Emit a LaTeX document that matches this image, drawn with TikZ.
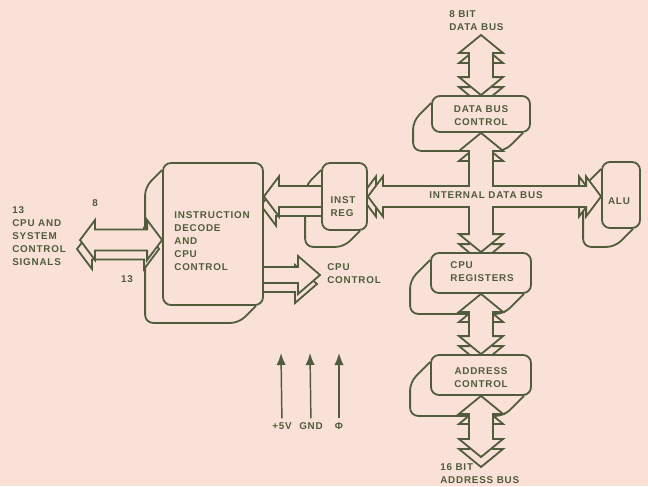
\documentclass[tikz,border=0pt]{standalone}
\usepackage{fontspec}
\setmainfont{Liberation Sans}[LetterSpace=8]
\usetikzlibrary{calc,arrows.meta}

\definecolor{paperbg}{RGB}{249,225,215}
\definecolor{ink}{RGB}{80,92,60}

\pgfdeclarelayer{paper}
\pgfdeclarelayer{shadows}
\pgfdeclarelayer{buses}
\pgfsetlayers{paper,shadows,buses,main}

\newcommand{\labelfont}{\fontsize{7.4}{9.75}\selectfont\bfseries}

% bus arrow sizes (vertical / horizontal)
\def\bvlen{18}\def\bvhead{22}\def\bvshaft{12}
\def\bhlen{15}\def\bhhead{20}\def\bhshaft{10.5}

% double bus, vertical: top tip, bottom tip, shift
\newcommand{\vbus}[4]{%
  \draw[bus] ($(#1)+(#3,#4)$) -- ($(#1)+(#3,#4)+(\bvhead,\bvlen)$) -- ($(#1)+(#3,#4)+(\bvshaft,\bvlen)$) -- ($(#2)+(#3,#4)+(\bvshaft,-\bvlen)$) -- ($(#2)+(#3,#4)+(\bvhead,-\bvlen)$) -- ($(#2)+(#3,#4)$) -- ($(#2)+(#3,#4)+(-\bvhead,-\bvlen)$) -- ($(#2)+(#3,#4)+(-\bvshaft,-\bvlen)$) -- ($(#1)+(#3,#4)+(-\bvshaft,\bvlen)$) -- ($(#1)+(#3,#4)+(-\bvhead,\bvlen)$) -- cycle;}
% double bus, horizontal: left tip, right tip, shift
\newcommand{\hbus}[4]{%
  \draw[bus] ($(#1)+(#3,#4)$) -- ($(#1)+(#3,#4)+(\bhlen,-\bhhead)$) -- ($(#1)+(#3,#4)+(\bhlen,-\bhshaft)$) -- ($(#2)+(#3,#4)+(-\bhlen,-\bhshaft)$) -- ($(#2)+(#3,#4)+(-\bhlen,-\bhhead)$) -- ($(#2)+(#3,#4)$) -- ($(#2)+(#3,#4)+(-\bhlen,\bhhead)$) -- ($(#2)+(#3,#4)+(-\bhlen,\bhshaft)$) -- ($(#1)+(#3,#4)+(\bhlen,\bhshaft)$) -- ($(#1)+(#3,#4)+(\bhlen,\bhhead)$) -- cycle;}
% single bus, horizontal: tail, tip, sign of head (- = right), shift
\newcommand{\sbus}[5]{%
  \draw[bus] ($(#2)+(#4,#5)$) -- ($(#2)+(#4,#5)+(#3\bhlen,-\bhhead)$) -- ($(#2)+(#4,#5)+(#3\bhlen,-\bhshaft)$) -- ($(#1)+(#4,#5)+(0,-\bhshaft)$) -- ($(#1)+(#4,#5)+(0,\bhshaft)$) -- ($(#2)+(#4,#5)+(#3\bhlen,\bhshaft)$) -- ($(#2)+(#4,#5)+(#3\bhlen,\bhhead)$) -- cycle;}
% back face of a block
\newcommand{\backdrop}[2]{%
  \draw[back] ($(#1.north west)+(0,8)$) -- ++(-#2,#2) -- ($(#1.south west)+(-#2,#2)$) -- ($(#1.south east)+(-8-#2,#2)$) -- ++(#2,-#2);}

\tikzset{
  blk/.style={draw=ink, fill=paperbg, line width=1.35pt, rounded corners=6pt, inner sep=0pt},
  back/.style={draw=ink, fill=paperbg, line width=1.35pt, rounded corners=6pt},
  bus/.style={draw=ink, fill=paperbg, line width=1.35pt},
  lbl/.style={text=ink, inner sep=0pt, font=\labelfont, align=left},
  pwrlbl/.style={lbl, inner sep=3pt},
  pwr/.style={draw=ink, line width=1.1pt, -{Latex[length=9pt,width=7pt]}},
}

\begin{document}
\begin{tikzpicture}[x=0.75pt,y=0.75pt,yscale=-1,xscale=1]
\useasboundingbox (0,0) rectangle (648,486);
\begin{pgfonlayer}{paper}
\fill[paperbg] (0,0) rectangle (648,486);
\end{pgfonlayer}

%Shape: Blocks
\node[blk, minimum width=75pt, minimum height=106.5pt] (dec) at (213,234) {};
\node[blk, minimum width=33.75pt, minimum height=50.25pt] (ireg) at (344.5,196.5) {};
\node[blk, minimum width=73.5pt, minimum height=27pt] (dbc) at (481,114) {};
\node[blk, minimum width=75pt, minimum height=30pt] (cpureg) at (481,273) {};
\node[blk, minimum width=75pt, minimum height=30pt] (addr) at (481,375) {};
\node[blk, minimum width=28.5pt, minimum height=49.5pt] (alu) at (621,195) {};

% Text Node
\node[lbl] (decT) at (212,241) {INSTRUCTION\\DECODE\\AND\\CPU\\CONTROL};
\node[lbl] (iregT) at (343,207) {INST\\REG};
\node[lbl, align=center] (dbcT) at (481,116) {DATA BUS\\CONTROL};
\node[lbl] (cpuT) at (482,272) {CPU\\REGISTERS};
\node[lbl, align=center] (addrT) at (481,378) {ADDRESS\\CONTROL};
\node[lbl] (aluT) at (619,201) {ALU};
\node[lbl] (idbT) at (486,195) {INTERNAL DATA BUS};
\node[lbl, anchor=west] (sigT) at (12,236) {13\\CPU AND\\SYSTEM\\CONTROL\\SIGNALS};
\node[lbl] (eightT) at (95,203) {8};
\node[lbl] (sigN) at (127,279) {13};
\node[lbl, anchor=west] (ccT) at (327,274) {CPU\\CONTROL};
\node[lbl, anchor=west] (dbusT) at (449,21) {8 BIT\\DATA BUS};
\node[lbl, anchor=west] (abusT) at (440,474) {16 BIT\\ADDRESS BUS};
\node[pwrlbl] (pv5) at (282,426) {+5V};
\node[pwrlbl] (gnd) at (311,426) {GND};
\node[pwrlbl] (phi) at (339,426) {Φ};

% Bus ends
\coordinate (dbtop) at (481,35);
\coordinate (abot) at (481,457);
\coordinate (vbot) at (dbc.south |- cpureg.north);
\coordinate (x) at (dbc.south |- ireg.east);
\coordinate (ibR) at (ireg.east -| alu.west);
\coordinate (irtip) at (ireg.center -| dec.east);
\coordinate (sig) at (80,240);
\coordinate (sigR) at (sig -| dec.west);
\coordinate (cc) at (320,275);
\coordinate (cctail) at (cc -| dec.center);
\coordinate (pv5t) at (281,353);
\coordinate (gndt) at (310,353);
\coordinate (phit) at (339,353);

\begin{pgfonlayer}{shadows}
\backdrop{dec}{17}
\backdrop{ireg}{16}
\backdrop{dbc}{18}
\backdrop{cpureg}{20}
\backdrop{addr}{20}
\backdrop{alu}{18}
\end{pgfonlayer}

\begin{pgfonlayer}{buses}
%Straight Lines: 8 bit data bus
\vbus{dbtop}{dbc.north}{0}{10}
\vbus{dbtop}{dbc.north}{0}{0}
%Straight Lines: internal data bus
\vbus{dbc.south}{vbot}{0}{10}
\hbus{ireg.east}{ibR}{-7}{0}
\vbus{dbc.south}{vbot}{0}{0}
\hbus{ireg.east}{ibR}{0}{0}
\fill[paperbg] ($(x)+(-11,-12)$) rectangle ($(x)+(11,12)$);
%Straight Lines: registers to address
\vbus{cpureg.south}{addr.north}{0}{10}
\vbus{cpureg.south}{addr.north}{0}{0}
\vbus{addr.south}{abot}{0}{10}
\vbus{addr.south}{abot}{0}{0}
%Straight Lines: inst reg to decode
\sbus{ireg.center}{irtip}{}{-3}{9}
\sbus{ireg.center}{irtip}{}{0}{0}
%Straight Lines: control signals
\hbus{sig}{sigR}{-3}{9}
\hbus{sig}{sigR}{0}{0}
\begin{scope}
\def\bhlen{22}\def\bhhead{19}\def\bhshaft{8}
\sbus{cctail}{cc}{-}{-3}{9}
\sbus{cctail}{cc}{-}{0}{0}
\end{scope}
\end{pgfonlayer}

%Straight Lines: supplies
\draw[pwr] (pv5) -- (pv5t);
\draw[pwr] (gnd) -- (gndt);
\draw[pwr] (phi) -- (phit);
\end{tikzpicture}
\end{document}
